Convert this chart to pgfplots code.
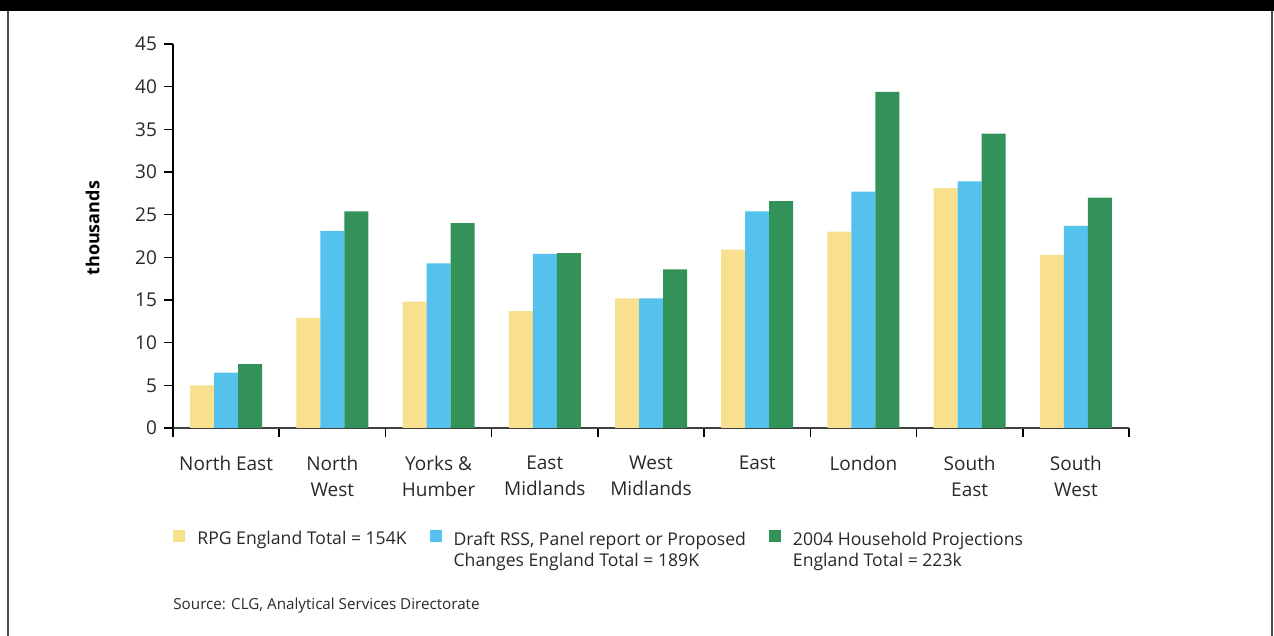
\documentclass[border=0pt]{standalone}
\usepackage{pgfplots}
\pgfplotsset{compat=1.18}
\usepackage{fontspec}
\setmainfont{Open Sans}

\definecolor{rpgyellow}{RGB}{248,224,142}
\definecolor{rssblue}{RGB}{85,193,237}
\definecolor{projgreen}{RGB}{51,146,90}
\definecolor{txtgray}{RGB}{40,40,40}

\begin{document}
\begin{tikzpicture}
    \useasboundingbox (0,0) rectangle (637bp,318bp);
    % frame and the cut-off title band
    \fill[black] (0,312.5bp) rectangle (637bp,318bp);
    \draw[black!70, line width=0.8bp] (4bp,0) -- (4bp,312.5bp);
    \draw[black!70, line width=0.8bp] (636bp,0) -- (636bp,312.5bp);

    \begin{axis}[
        at={(86.5bp,104bp)}, anchor=south west,
        scale only axis,
        width=478bp, height=192bp,
        ybar=0pt, bar width=12bp,
        xmin=-0.5, xmax=8.5,
        ymin=0, ymax=45,
        ytick={0,5,...,45},
        xtick={-0.5,0.5,...,8.5},
        xticklabels={North East, North\\West, Yorks \&\\Humber, East\\Midlands,
            West\\Midlands, East, London, South\\East, South\\West, {}},
        xticklabel style={align=center, xshift=26.56bp, yshift=-6bp,
            font=\fontsize{9.5bp}{13bp}\selectfont, text=txtgray},
        yticklabel style={font=\fontsize{9.5bp}{11bp}\selectfont, text=txtgray},
        /pgf/number format/assume math mode=true,
        axis lines=left,
        axis line style={-, line width=0.75bp},
        x axis line style={black!75},
        tick align=outside,
        major tick length=4.5bp,
        tick style={line width=0.75bp, black},
        ylabel={\bfseries thousands},
        ylabel style={at={(axis description cs:-0.084,0.52)}, anchor=center,
            font=\fontsize{9bp}{11bp}\selectfont},
        legend columns=3,
        legend cell align=left,
        legend style={at={(axis description cs:0,-0.256)}, anchor=north west,
            draw=none, fill=none, inner sep=0pt,
            font=\fontsize{8.8bp}{10.6bp}\selectfont, text=txtgray,
            /tikz/every odd column/.append style={column sep=4bp},
            /tikz/every even column/.append style={column sep=9.5bp}},
        legend image code/.code={\fill[#1] (0bp,-1bp) rectangle (6bp,5bp);},
    ]
        \addplot[fill=rpgyellow, draw=none] coordinates {
            (0,5.0) (1,12.9) (2,14.8) (3,13.7) (4,15.2)
            (5,20.9) (6,23.0) (7,28.1) (8,20.3)
        };
        \addlegendentry{RPG England Total = 154K}
        \addplot[fill=rssblue, draw=none] coordinates {
            (0,6.5) (1,23.1) (2,19.3) (3,20.4) (4,15.2)
            (5,25.4) (6,27.7) (7,28.9) (8,23.7)
        };
        \addlegendentry{\begin{tabular}[t]{@{}l@{}}Draft RSS, Panel report or Proposed\\Changes England Total = 189K\end{tabular}}
        \addplot[fill=projgreen, draw=none] coordinates {
            (0,7.5) (1,25.4) (2,24.0) (3,20.5) (4,18.6)
            (5,26.6) (6,39.4) (7,34.5) (8,27.0)
        };
        \addlegendentry{\begin{tabular}[t]{@{}l@{}}2004 Household Projections\\England Total = 223k\end{tabular}}
    \end{axis}

    \node[anchor=west, inner sep=0pt, text=txtgray,
        font=\fontsize{7.6bp}{9bp}\selectfont] at (86.5bp,15bp)
        {Source: CLG, Analytical Services Directorate};
\end{tikzpicture}
\end{document}
